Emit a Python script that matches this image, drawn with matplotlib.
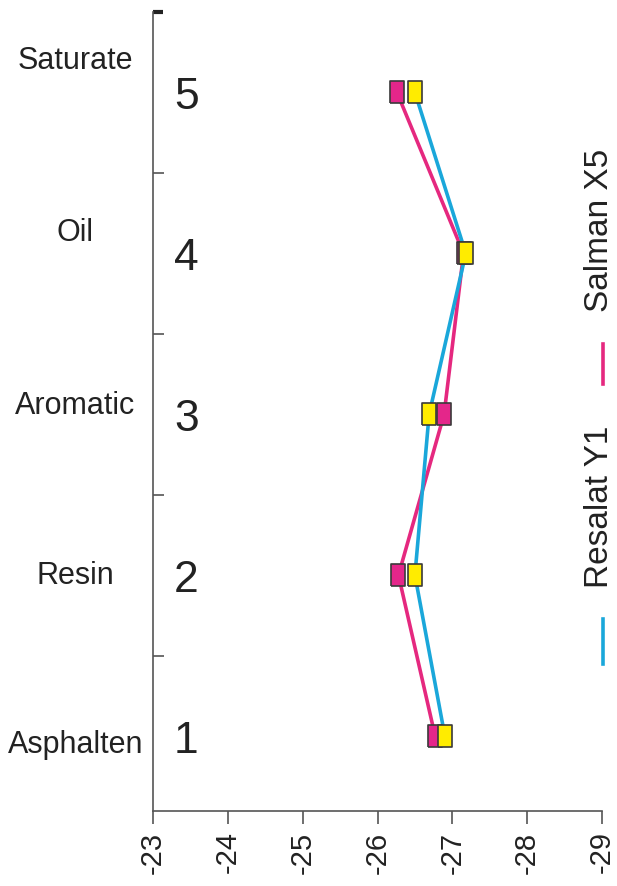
import matplotlib
matplotlib.use("Agg")
import matplotlib.pyplot as plt
import matplotlib.transforms as mtransforms
from matplotlib.lines import Line2D
import warnings
warnings.filterwarnings("ignore")

# ---- data ----
levels = [1, 2, 3, 4, 5]
level_labels = ["1", "2", "3", "4", "5"]
fractions = ["Asphalten", "Resin", "Aromatic", "Oil", "Saturate"]
salman_x5 = [-26.77, -26.28, -26.89, -27.15, -26.26]    # pink line
resalat_y1 = [-26.90, -26.50, -26.69, -27.18, -26.50]   # cyan line
x_ticks = [-23, -24, -25, -26, -27, -28, -29]
x_tick_labels = ["-23", "-24", "-25", "-26", "-27", "-28", "-29"]

NARROW = ["Liberation Sans Narrow", "Liberation Sans", "DejaVu Sans"]
REG = ["Liberation Sans", "DejaVu Sans"]

PINK = "#E5287F"
CYAN = "#1AA7DA"
MAG_FILL = "#E4268A"
YEL_FILL = "#FFEC00"
EDGE = "#3a3a3a"
AXC = "#555555"

fig = plt.figure(figsize=(6.17, 8.87), dpi=100)
ax = fig.add_axes([153/617, 1 - 812/887, (602-153)/617, (812-13)/887])

rect = [(-0.62, -1), (0.62, -1), (0.62, 1), (-0.62, 1), (-0.62, -1)]

ax.plot(salman_x5, levels, color=PINK, lw=2.6, zorder=2, solid_capstyle="butt")
ax.plot(resalat_y1, levels, color=CYAN, lw=2.6, zorder=3, solid_capstyle="butt")
ax.plot(salman_x5, levels, ls="none", marker=rect, ms=16, mfc=MAG_FILL,
        mec=EDGE, mew=1.2, zorder=4)
ax.plot(resalat_y1, levels, ls="none", marker=rect, ms=16, mfc=YEL_FILL,
        mec=EDGE, mew=1.2, zorder=5)

ax.set_xlim(-23, -29)
ax.set_ylim(0.534, 5.5)

for s in ["top", "right"]:
    ax.spines[s].set_visible(False)
for s in ["left", "bottom"]:
    ax.spines[s].set_color(AXC)
    ax.spines[s].set_linewidth(1.2)

ax.set_xticks(x_ticks)
ax.set_xticklabels(x_tick_labels, rotation=90, family=NARROW, fontsize=21,
                   va="top", ha="center", color="#222222")
ax.tick_params(axis="x", direction="out", length=9, width=1.2, color=AXC, pad=5)

ax.set_yticks(levels)
ax.set_yticklabels(level_labels, family=NARROW, fontsize=32, color="#222222")
ax.tick_params(axis="y", which="major", length=0, pad=-24)
for t in ax.get_yticklabels():
    t.set_ha("center")
ax.set_yticks([1.5, 2.5, 3.5, 4.5], minor=True)
ax.tick_params(axis="y", which="minor", direction="in", length=8, width=1.2, color=AXC)

# thick top tick
tr = mtransforms.blended_transform_factory(ax.transAxes, ax.transData)
ax.add_line(Line2D([0, 0.022], [5.5, 5.5], transform=tr, color="#222222", lw=3,
                   clip_on=False, solid_capstyle="butt"))

# fraction names at left
name_y = [0.95, 2.0, 3.06, 4.13, 5.2]
for name, yy in zip(fractions, name_y):
    ax.text(-0.173, yy, name, transform=tr, ha="center", va="center",
            family=NARROW, fontsize=22, color="#222222", clip_on=False)

# rotated legend at right
fig.add_artist(Line2D([603/617, 603/617], [1-665/887, 1-620/887], color=CYAN, lw=2.6,
                      transform=fig.transFigure))
fig.text(599/617, 1-507/887, "Resalat Y1", rotation=90, ha="center", va="center",
         family=REG, fontsize=24, color="#222222")
fig.add_artist(Line2D([603/617, 603/617], [1-385/887, 1-345/887], color=PINK, lw=2.6,
                      transform=fig.transFigure))
fig.text(599/617, 1-230/887, "Salman X5", rotation=90, ha="center", va="center",
         family=REG, fontsize=24, color="#222222")

fig.savefig("out.png", dpi=100, facecolor="white")
